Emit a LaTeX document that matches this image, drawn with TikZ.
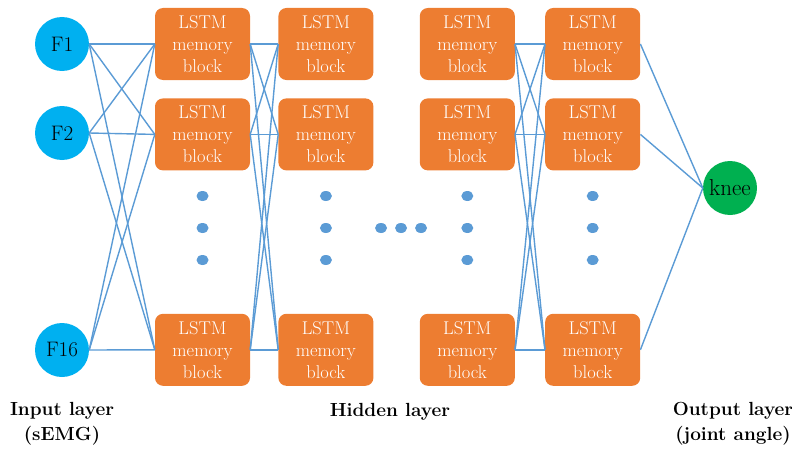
\documentclass[tikz,border=0pt]{standalone}
\usepackage{fontspec}
\usetikzlibrary{positioning}
\definecolor{inblue}{HTML}{00B0F0}
\definecolor{boxorange}{HTML}{ED7D31}
\definecolor{outgreen}{HTML}{00B050}
\definecolor{linkblue}{HTML}{5B9BD5}
\tikzset{
  feature/.style={circle, fill=inblue, minimum size=54pt, inner sep=0pt, font=\fontsize{21}{21}\selectfont},
  target/.style={circle, fill=outgreen, minimum size=54pt, inner sep=0pt, font=\fontsize{23}{23}\selectfont},
  lstm/.style={rectangle, rounded corners=8pt, fill=boxorange, minimum width=95pt, minimum height=72pt, text=white, align=center, inner sep=0pt, font=\fontsize{18.5}{22}\selectfont},
  link/.style={draw=linkblue, line width=1.4pt},
  layer/.style={font=\bfseries\fontsize{19}{25}\selectfont, align=center}
}
\begin{document}
\begin{tikzpicture}[x=1pt, y=-1pt]
  \useasboundingbox (0,0) rectangle (792,452);

  % input layer
  \node[feature] (in1) at (62,44) {F1};
  \node[feature] (in2) at (62,133) {F2};
  \node[feature] (in16) at (62,350) {F16};

  % hidden layer
  \node[lstm] (a1) at (202.5,44) {LSTM\\memory\\block};
  \node[lstm] (a2) [below=18pt of a1] {LSTM\\memory\\block};
  \node[lstm] (a3) [below=143pt of a2] {LSTM\\memory\\block};
  \node[lstm] (b1) [right=28pt of a1] {LSTM\\memory\\block};
  \node[lstm] (b2) [right=28pt of a2] {LSTM\\memory\\block};
  \node[lstm] (b3) [right=28pt of a3] {LSTM\\memory\\block};
  \node[lstm] (c1) [right=46pt of b1] {LSTM\\memory\\block};
  \node[lstm] (c2) [right=46pt of b2] {LSTM\\memory\\block};
  \node[lstm] (c3) [right=46pt of b3] {LSTM\\memory\\block};
  \node[lstm] (d1) [right=30pt of c1] {LSTM\\memory\\block};
  \node[lstm] (d2) [right=30pt of c2] {LSTM\\memory\\block};
  \node[lstm] (d3) [right=30pt of c3] {LSTM\\memory\\block};

  % output layer
  \node[target] (knee) at (730,188) {knee};

  % dots
  \foreach \c in {a,b,c,d}
    \foreach \y in {196,228,260}
      \fill[linkblue] (\c1 |- 0,\y) ellipse [x radius=6pt, y radius=5pt];
  \foreach \x in {381,401,421}
    \fill[linkblue] (\x,228) ellipse [x radius=6pt, y radius=5pt];

  % connections
  \foreach \s in {in1,in2,in16}
    \foreach \t in {a1,a2,a3}
      \draw[link] (\s.east) -- (\t.west);
  \foreach \s/\t in {a/b,c/d}
    \foreach \i in {1,2,3}
      \foreach \j in {1,2,3}
        \draw[link] (\s\i.east) -- (\t\j.west);
  \foreach \i in {1,2,3}
    \draw[link] (d\i.east) -- (knee.west);

  % labels
  \node[layer] (inlabel) at (62,424) {Input layer\\(sEMG)};
  \node[layer] (hidlabel) at (390,412) {Hidden layer};
  \node[layer] (outlabel) at (733,424) {Output layer\\(joint angle)};
\end{tikzpicture}
\end{document}
